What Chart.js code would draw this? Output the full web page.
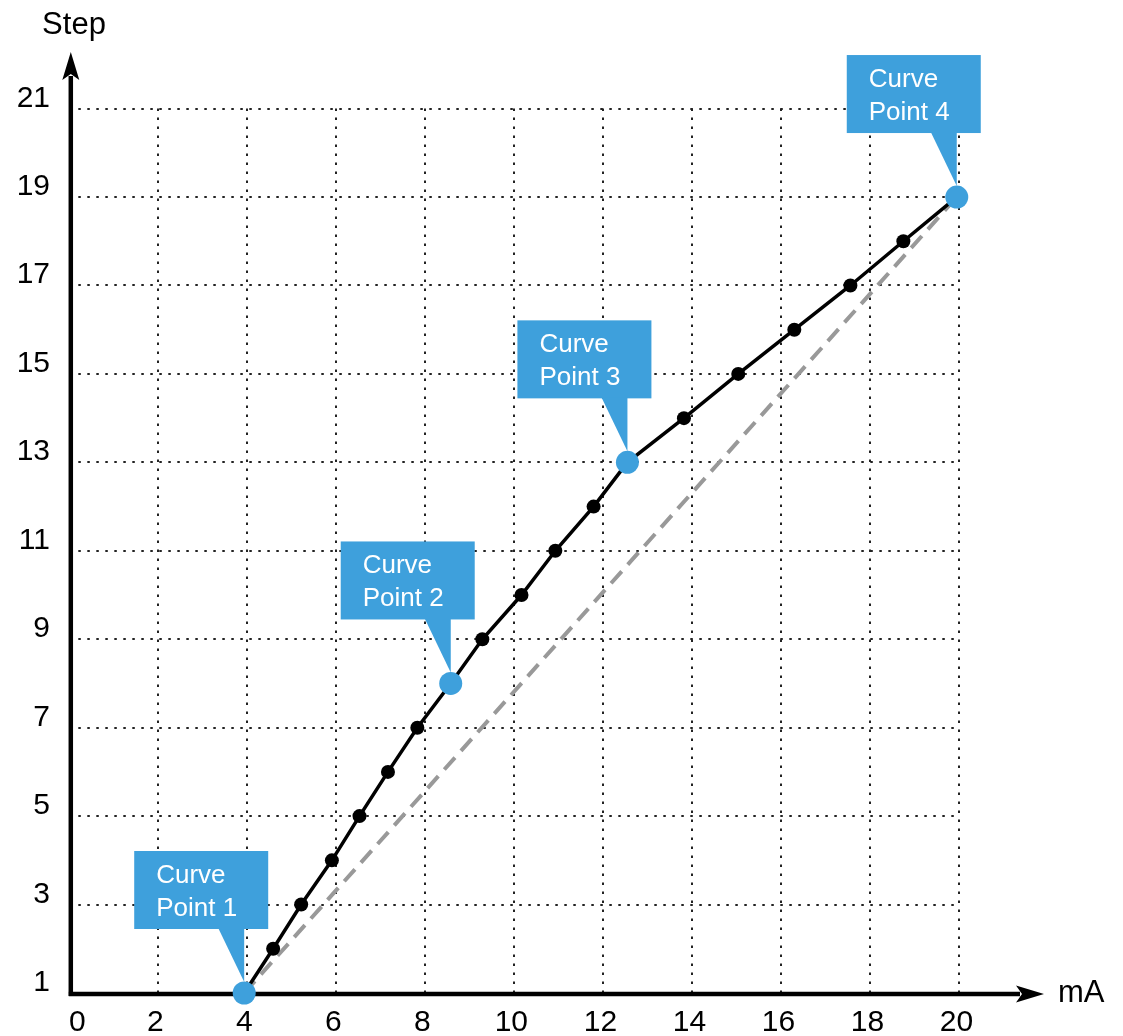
<!DOCTYPE html>
<html>
<head>
    <title>Step vs mA curve</title>
    <script src="https://cdn.jsdelivr.net/npm/chart.js@4.4.0/dist/chart.umd.min.js"></script>
    <style>
        body { margin: 0; background: white; }
        canvas { display: block; }
    </style>
</head>
<body>
    <canvas id="curveChart" width="1123" height="1036"></canvas>

    <script>
        // Curve: current (mA) for every step
        const currentMA = [3.93, 4.58, 5.21, 5.90, 6.52, 7.16, 7.82, 8.57, 9.28, 10.16,
                           10.92, 11.78, 12.54, 13.81, 15.03, 16.29, 17.55, 18.74, 19.94];
        const steps = [1, 2, 3, 4, 5, 6, 7, 8, 9, 10, 11, 12, 13, 14, 15, 16, 17, 18, 19];

        // Which entries of the curve are the named curve points
        const curvePointIndex = [0, 7, 12, 18];
        const curvePointLabels = [['Curve', 'Point 1'], ['Curve', 'Point 2'], ['Curve', 'Point 3'], ['Curve', 'Point 4']];

        // Straight reference line from first to last curve point
        const linearMA = [3.93, 19.94];
        const linearStep = [1, 19];

        // Axis ticks and titles
        const xTicks = [0, 2, 4, 6, 8, 10, 12, 14, 16, 18, 20];
        const yTicks = [1, 3, 5, 7, 9, 11, 13, 15, 17, 19, 21];
        const xTitle = 'mA';
        const yTitle = 'Step';

        const BLUE = '#3ea0dc';
        const FONT = '"Liberation Sans", Arial, sans-serif';

        const toPoints = (xs, ys) => xs.map((x, i) => ({ x: x, y: ys[i] }));

        function arrowHead(ctx, tipX, tipY, dirX, dirY) {
            // classic arrow with a small notch at the back
            const len = 28, half = 8.5, notch = 6;
            const nx = -dirY, ny = dirX;
            const bx = tipX - dirX * len, by = tipY - dirY * len;
            ctx.beginPath();
            ctx.moveTo(tipX, tipY);
            ctx.lineTo(bx + nx * half, by + ny * half);
            ctx.lineTo(bx + dirX * notch, by + dirY * notch);
            ctx.lineTo(bx - nx * half, by - ny * half);
            ctx.closePath();
            ctx.fill();
        }

        // Dotted grid limited to the tick range, plus axes with arrows and labels
        const axesPlugin = {
            id: 'axesPlugin',
            beforeDatasetsDraw(chart) {
                const ctx = chart.ctx;
                const xs = chart.scales.x, ys = chart.scales.y;
                const area = chart.chartArea;
                const x0 = xs.getPixelForValue(xTicks[0]);
                const x1 = xs.getPixelForValue(xTicks[xTicks.length - 1]);
                const y0 = ys.getPixelForValue(yTicks[0]);
                const y1 = ys.getPixelForValue(yTicks[yTicks.length - 1]);

                ctx.save();
                ctx.strokeStyle = '#222';
                ctx.lineWidth = 2;
                ctx.setLineDash([2.5, 6.5]);
                xTicks.slice(1).forEach(v => {
                    const px = Math.round(xs.getPixelForValue(v));
                    ctx.beginPath();
                    ctx.moveTo(px, y0);
                    ctx.lineTo(px, y1);
                    ctx.stroke();
                });
                yTicks.slice(1).forEach(v => {
                    const py = Math.round(ys.getPixelForValue(v));
                    ctx.beginPath();
                    ctx.moveTo(x0, py);
                    ctx.lineTo(x1, py);
                    ctx.stroke();
                });
                ctx.setLineDash([]);

                // axes
                const axisX = x0 + 1.5;
                const axisY = y0 + 1;
                ctx.strokeStyle = '#000';
                ctx.fillStyle = '#000';
                ctx.lineWidth = 4.5;
                ctx.beginPath();
                ctx.moveTo(axisX, axisY + 2);
                ctx.lineTo(axisX, area.top + 24);
                ctx.stroke();
                arrowHead(ctx, axisX, area.top, 0, -1);

                ctx.beginPath();
                ctx.moveTo(axisX - 2, axisY);
                ctx.lineTo(area.right - 24, axisY);
                ctx.stroke();
                arrowHead(ctx, area.right, axisY, 1, 0);

                // tick labels
                ctx.font = '30px ' + FONT;
                ctx.textBaseline = 'alphabetic';
                ctx.textAlign = 'right';
                yTicks.forEach(v => {
                    ctx.fillText(String(v), 50, ys.getPixelForValue(v) - 2);
                });
                ctx.textAlign = 'center';
                xTicks.forEach((v, i) => {
                    const shift = i === 0 ? 8 : -3;
                    ctx.fillText(String(v), xs.getPixelForValue(v) + shift, axisY + 37);
                });

                // axis titles
                ctx.font = '31px ' + FONT;
                ctx.textAlign = 'center';
                ctx.fillText(yTitle, 74, 34);
                ctx.textAlign = 'left';
                ctx.fillText(xTitle, 1058, 1002);
                ctx.restore();
            },
            afterDatasetsDraw(chart) {
                const ctx = chart.ctx;
                const meta = chart.getDatasetMeta(0);
                ctx.save();
                curvePointIndex.forEach((idx, n) => {
                    const el = meta.data[n];
                    const px = el.x, py = el.y;
                    const left = px - 110, top = py - 142, w = 134, h = 78;
                    ctx.fillStyle = BLUE;
                    ctx.fillRect(left, top, w, h);
                    ctx.beginPath();
                    ctx.moveTo(px - 26, top + h - 1);
                    ctx.lineTo(px, top + h - 1);
                    ctx.lineTo(px, py - 11);
                    ctx.closePath();
                    ctx.fill();

                    ctx.fillStyle = '#fff';
                    ctx.font = '26px ' + FONT;
                    ctx.textAlign = 'left';
                    ctx.textBaseline = 'alphabetic';
                    ctx.fillText(curvePointLabels[n][0], left + 22, top + 32);
                    ctx.fillText(curvePointLabels[n][1], left + 22, top + 65);
                });
                ctx.restore();
            }
        };

        const curvePoints = curvePointIndex.map(i => ({ x: currentMA[i], y: steps[i] }));

        new Chart(document.getElementById('curveChart'), {
            type: 'scatter',
            data: {
                datasets: [
                    {
                        label: 'Curve points',
                        data: curvePoints,
                        pointRadius: 11.5,
                        pointBackgroundColor: BLUE,
                        pointBorderWidth: 0,
                        showLine: false,
                        clip: false,
                        order: 0
                    },
                    {
                        label: 'Curve',
                        data: toPoints(currentMA, steps),
                        showLine: true,
                        borderColor: '#000',
                        borderWidth: 3.5,
                        pointRadius: 7,
                        pointBackgroundColor: '#000',
                        pointBorderWidth: 0,
                        clip: false,
                        order: 1
                    },
                    {
                        label: 'Linear',
                        data: toPoints(linearMA, linearStep),
                        showLine: true,
                        borderColor: '#999',
                        borderWidth: 4,
                        borderDash: [16, 9],
                        pointRadius: 0,
                        clip: false,
                        order: 2
                    }
                ]
            },
            options: {
                responsive: false,
                animation: false,
                layout: {
                    padding: { left: 69.3, right: 79, top: 52, bottom: 43 }
                },
                plugins: {
                    legend: { display: false },
                    tooltip: { enabled: false }
                },
                scales: {
                    x: { type: 'linear', min: 0, max: 21.9, display: false },
                    y: { type: 'linear', min: 1, max: 22.28, display: false }
                }
            },
            plugins: [axesPlugin]
        });
    </script>
</body>
</html>
